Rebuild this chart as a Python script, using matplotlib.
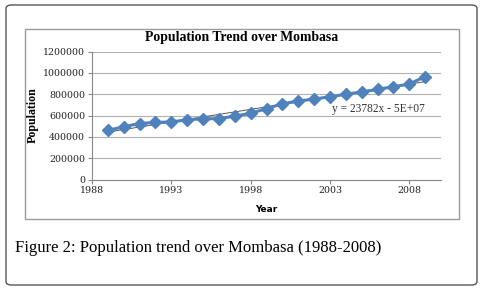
import matplotlib
matplotlib.use("Agg")
import matplotlib.pyplot as plt
import numpy as np
from matplotlib.patches import FancyBboxPatch, Rectangle

years = [1989, 1990, 1991, 1992, 1993, 1994, 1995, 1996, 1997, 1998, 1999,
         2000, 2001, 2002, 2003, 2004, 2005, 2006, 2007, 2008, 2009]
population = [460000, 495000, 525000, 535000, 540000, 560000, 570000, 570000,
              595000, 620000, 665000, 710000, 735000, 755000, 775000, 800000,
              820000, 845000, 870000, 895000, 965000]
x_ticks = [1988, 1993, 1998, 2003, 2008]
y_ticks = [0, 200000, 400000, 600000, 800000, 1000000, 1200000]

W, H = 484, 293
fig = plt.figure(figsize=(W / 100, H / 100), dpi=100)

# outer rounded frame
fig.patches.append(FancyBboxPatch((6 / W, 1 - 285 / H), 471 / W, 280 / H,
                                  boxstyle="round,pad=0,rounding_size=0.012",
                                  transform=fig.transFigure, fill=False,
                                  edgecolor="#555555", linewidth=1.0))
# chart area box
fig.patches.append(Rectangle((25 / W, 1 - 219 / H), 434 / W, 190 / H,
                             transform=fig.transFigure, fill=False,
                             edgecolor="#9a9a9a", linewidth=1.0))

ax = fig.add_axes([92 / W, 1 - 179.5 / H, 349 / W, 128 / H])
ax.set_xlim(1988, 2010)
ax.set_ylim(0, 1200000)
ax.set_xticks(x_ticks)
ax.set_yticks(y_ticks)
tick_font = dict(family="DejaVu Serif", size=6.8, color="#222222")
ax.set_xticklabels([str(t) for t in x_ticks], **tick_font)
ax.set_yticklabels([str(t) for t in y_ticks], **tick_font)
ax.tick_params(axis="both", length=3, width=0.8, color="#888888", pad=2)
ax.grid(axis="y", color="#b0b0b0", linewidth=0.8)
ax.set_axisbelow(True)
for s in ["top", "right"]:
    ax.spines[s].set_visible(False)
for s in ["left", "bottom"]:
    ax.spines[s].set_color("#888888")
    ax.spines[s].set_linewidth(0.8)

# trend line
coef = np.polyfit(years, population, 1)
xs = np.array([years[0], years[-1]])
ax.plot(xs, np.polyval(coef, xs), color="#555555", linewidth=0.7, zorder=2)

ax.plot(years, population, color="#4F81BD", linewidth=2.2, marker="D",
        markersize=6, markerfacecolor="#4F81BD", markeredgecolor="#4F81BD",
        zorder=3)

ax.text(2003.15, 665000, "y = 23782x - 5E+07", family="Liberation Serif",
        size=8.3, ha="left", va="center", color="#333333")

fig.text(242 / W, 1 - 38 / H, "Population Trend over Mombasa",
         family="Liberation Serif", weight="bold", size=9.9,
         ha="center", va="center")
fig.text(33 / W, 1 - 115 / H, "Population", family="Liberation Serif",
         weight="bold", size=8.6, rotation=90, ha="center", va="center")
fig.text(266 / W, 1 - 209 / H, "Year", family="DejaVu Sans",
         weight="bold", size=6.5, ha="center", va="center")

fig.text(15 / W, 1 - 248 / H, "Figure 2: Population trend over Mombasa (1988-2008)",
         family="Liberation Serif", size=12, ha="left", va="center")

fig.savefig("out.png", dpi=100)
